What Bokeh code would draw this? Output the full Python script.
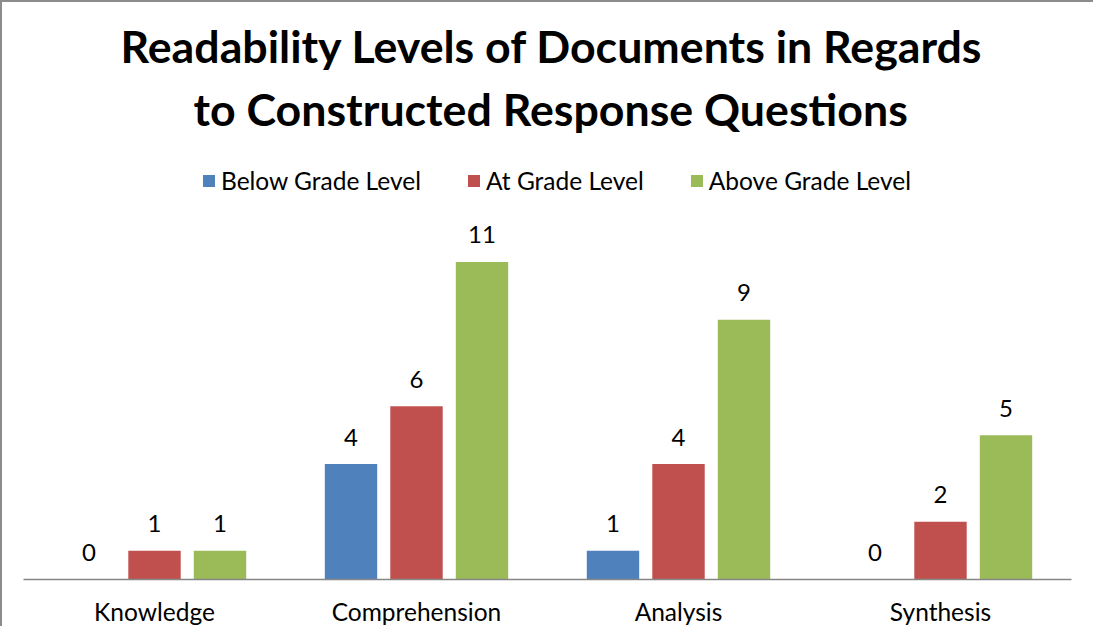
from bokeh.plotting import figure
from bokeh.models import ColumnDataSource, Legend, LegendItem, FactorRange, Title
from bokeh.transform import dodge
from bokeh.embed import file_html
from bokeh.resources import INLINE
from bokeh.core.properties import value

categories = ["Knowledge", "Comprehension", "Analysis", "Synthesis"]
series_names = ["Below Grade Level", "At Grade Level", "Above Grade Level"]
below = [0, 4, 1, 0]
at = [1, 6, 4, 2]
above = [1, 11, 9, 5]
colors = ["#4F81BD", "#C0504D", "#9BBB59"]
title_lines = ["Readability Levels of Documents in Regards", "to Constructed Response Questions"]

FONT = "Lato"

src = ColumnDataSource(dict(cat=categories, below=below, at=at, above=above,
                            below_s=[str(v) for v in below],
                            at_s=[str(v) for v in at],
                            above_s=[str(v) for v in above]))

p = figure(x_range=FactorRange(*categories), y_range=(0, 15.14),
           width=1093, height=626, output_backend="svg", toolbar_location=None,
           title=title_lines[0],
           min_border_left=21, min_border_right=24, min_border_top=140, min_border_bottom=47)
p.styles = {"border-left": "2px solid #8c8c8c", "border-top": "2px solid #8c8c8c",
            "box-sizing": "border-box"}


def style_title(t, off):
    t.align = "left"
    t.text_font = FONT
    t.text_font_style = "bold"
    t.text_font_size = "44.7px"
    t.text_color = "#000000"
    t.offset = off


style_title(p.title, 97)
p.title.standoff = 0
t2 = Title(text=title_lines[1])
style_title(t2, 170)
t2.standoff = 14
p.add_layout(t2, "above")

p.outline_line_color = None
p.xgrid.visible = False
p.ygrid.visible = False
p.yaxis.visible = False
p.xaxis.axis_line_color = "#868686"
p.xaxis.axis_line_width = 1.5
p.xaxis.major_tick_line_color = None
p.xaxis.minor_tick_line_color = None
p.xaxis.major_tick_out = 0
p.xaxis.major_tick_in = 0
p.xaxis.major_label_text_font = FONT
p.xaxis.major_label_text_font_size = "24.5px"
p.xaxis.major_label_text_color = "#000000"
p.xaxis.major_label_standoff = 17
p.x_range.range_padding = 0
p.border_fill_color = "white"

keys = ["below", "at", "above"]
offs = [-0.25, 0.0, 0.25]
items = []
for k, o, c, n in zip(keys, offs, colors, series_names):
    r = p.vbar(x=dodge("cat", o, range=p.x_range), top=k, width=0.2, source=src,
               fill_color=c, line_color=None)
    p.text(x=dodge("cat", o, range=p.x_range), y=k, text=k + "_s", source=src,
           text_align="center", text_baseline="middle", y_offset=-27,
           text_font=value(FONT), text_font_size="24px", text_color="#000000")
    items.append(LegendItem(label=n, renderers=[r]))

legend = Legend(items=items, orientation="horizontal", location=(178, 384),
                label_text_font=FONT, label_text_font_size="24.5px",
                label_text_color="#000000", glyph_width=15, glyph_height=15,
                label_standoff=5, spacing=45, background_fill_alpha=0,
                border_line_color=None, margin=0, padding=0)
p.add_layout(legend)

open("out.html", "w").write(file_html(p, INLINE))
